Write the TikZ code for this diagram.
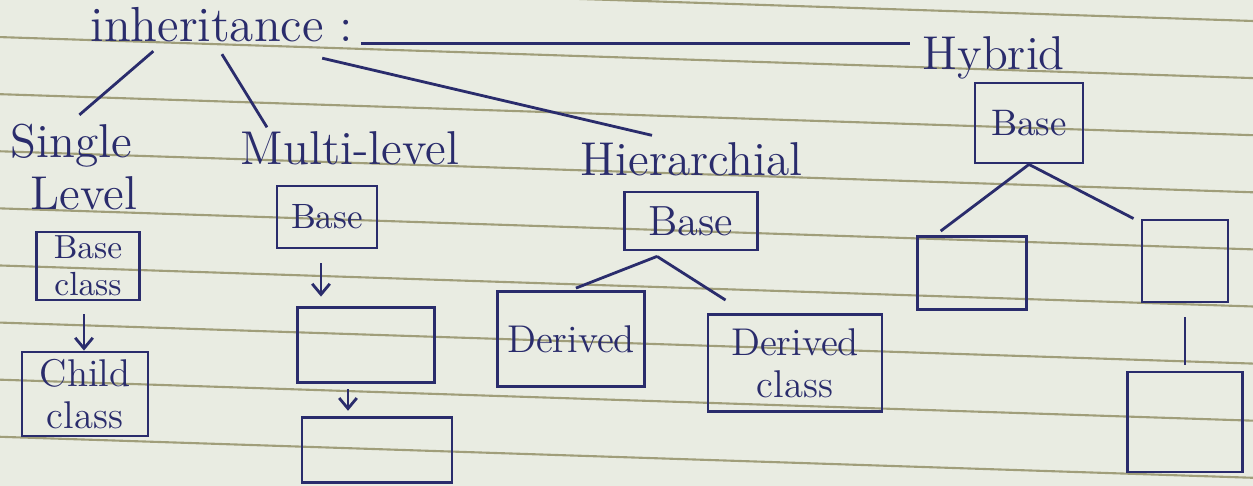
\documentclass[tikz,border=0pt]{standalone}
\usepackage{tikz}
\usetikzlibrary{positioning, arrows.meta, calc}
\definecolor{ink}{RGB}{42,44,108}
\definecolor{paper}{RGB}{233,236,226}
\definecolor{ruling}{RGB}{160,158,122}
\tikzset{box/.style={draw=ink, line width=0.8pt, inner sep=0pt, align=center, text=ink, font=\fontsize{11}{12}\selectfont},
         topic/.style={anchor=base west, inner sep=0pt, text=ink, font=\fontsize{13.5}{16}\selectfont},
         pen/.style={draw=ink, line width=0.8pt},
        }

\begin{document}
\begin{tikzpicture}[x=0.01cm, y=-0.01cm, >={Straight Barb[length=3pt,width=5pt]}]
        \useasboundingbox (0,0) rectangle (1253,486);
        \fill[paper] (0,0) rectangle (1253,486);
        \foreach \k in {0,...,9}
            \draw[ruling, line width=0.6pt] (0,{-20+57.1*\k}) -- (1253,{21+57.1*\k});

        \node[topic, font=\fontsize{14}{16}\selectfont](inh)at(90,42){inheritance :};
        \node[topic](hyb)at(922,70){Hybrid};
        \node[topic](sgl)at(10,158){Single};
        \node[topic](lvl)at(30,210){Level};
        \node[topic](mlt)at(240,165){Multi-level};
        \node[topic](hie)at(580,176){Hierarchial};

        \draw[pen, shorten <=2pt, shorten >=3.4pt](inh.south east)--(inh.south east -| hyb.west);
        \draw[pen]($(inh.south west)!.24!(inh.south east)+(0,8)$)--($(sgl.north)+(8,-9)$);
        \draw[pen]($(inh.south west)!.50!(inh.south east)+(0,11)$)--($(mlt.north west)+(27,-4)$);
        \draw[pen]($(inh.south west)!.88!(inh.south east)+(0,15)$)--($(hie.north west)+(72,-7)$);

        \node[box, minimum width=1.03cm, minimum height=0.68cm, font=\fontsize{9.5}{10.5}\selectfont](sb)at(88,266){Base\\class};
        \node[box, minimum width=1.26cm, minimum height=0.84cm](sc)at(85,394){Child\\class};
        \draw[pen, ->, shorten <=3.7pt]([xshift=-0.04cm]sb.270)--([xshift=-0.04cm]sb.270 |- sc.90);

        \node[box, minimum width=1.00cm, minimum height=0.62cm, font=\fontsize{10}{11}\selectfont](mb)at(327,217){Base};
        \node[box, minimum width=1.37cm, minimum height=0.75cm](m2)at(366,345){};
        \node[box, minimum width=1.50cm, minimum height=0.65cm](m3)at(377,450){};
        \draw[pen, ->, shorten <=4pt, shorten >=2.7pt]([xshift=-0.06cm]mb.270)--([xshift=-0.06cm]mb.270 |- m2.90);
        \draw[pen, ->, shorten <=1.5pt, shorten >=1.5pt]([xshift=-0.18cm]m2.270)--([xshift=-0.18cm]m2.270 |- m3.90);

        \node[box, minimum width=1.33cm, minimum height=0.58cm, font=\fontsize{12}{13}\selectfont](hb)at(691,221){Base};
        \node[box, minimum width=1.47cm, minimum height=0.95cm](hd1)at(571,339){Derived};
        \node[box, minimum width=1.74cm, minimum height=0.97cm](hd2)at(795,363){Derived\\class};
        \coordinate(hj)at($(hb.south west)!.25!(hb.south east)+(0,5)$);
        \draw[pen, shorten >=1.5pt](hj)--(hd1.90);
        \draw[pen](hj)--($(hd2.north west)+(19,-13)$);

        \node[box, minimum width=1.08cm, minimum height=0.80cm, font=\fontsize{10.5}{12}\selectfont](yb)at(1029,123){Base};
        \node[box, minimum width=1.09cm, minimum height=0.73cm](yl)at(972,273){};
        \node[box, minimum width=0.86cm, minimum height=0.82cm](yr)at(1185,261){};
        \node[box, minimum width=1.15cm, minimum height=1.00cm](yd)at(1185,422){};
        \draw[pen](yb.270)--($(yl.north west)!.22!(yl.north east)+(0,-4)$);
        \draw[pen](yb.270)--($(yr.north west)+(-7,0)$);
        \draw[pen, shorten <=4pt, shorten >=1.5pt](yr.270)--(yd.90);
\end{tikzpicture}
\end{document}
